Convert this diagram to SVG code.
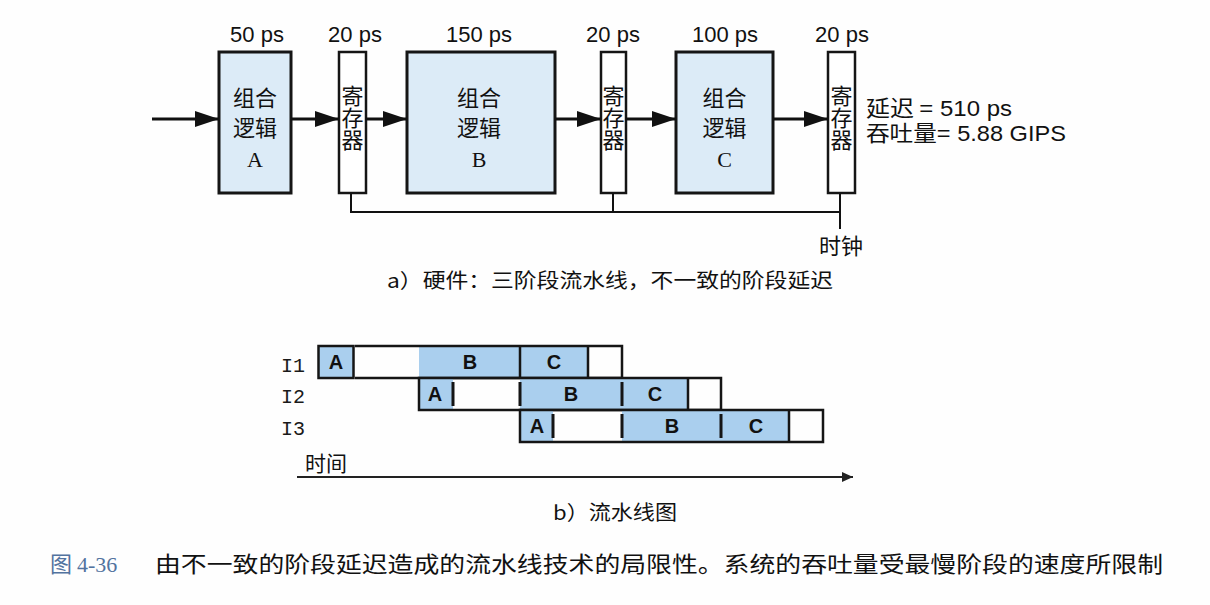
<svg xmlns="http://www.w3.org/2000/svg" width="1210" height="605" viewBox="0 0 1210 605">
<defs>
<marker id="ah" markerUnits="userSpaceOnUse" markerWidth="24" markerHeight="16" refX="24" refY="8" orient="auto">
<path d="M0,0 L24,8 L0,16 z" fill="#111"/>
</marker>
<marker id="ah2" markerUnits="userSpaceOnUse" markerWidth="11" markerHeight="10" refX="11" refY="5" orient="auto">
<path d="M0,0 L11,5 L0,10 z" fill="#222"/>
</marker>
<style>
.box{fill:#dcebf7;stroke:#151515;stroke-width:3}
.reg{fill:#ffffff;stroke:#151515;stroke-width:2.5}
.cjk{font-family:"Noto Sans CJK SC","Noto Sans",sans-serif;fill:#111}
.lbl{font-family:"Liberation Sans",Arial,sans-serif;font-size:22px;fill:#111;text-anchor:middle}
.bt{font-family:"Noto Sans CJK SC",sans-serif;font-size:22px;fill:#111;text-anchor:middle}
.bl{font-family:"Liberation Serif",serif;font-size:22px}
.rt{font-family:"Noto Sans CJK SC",sans-serif;font-size:22px;fill:#111;text-anchor:middle;writing-mode:vertical-rl}
.wire{stroke:#111;stroke-width:3;fill:none}
.clk{stroke:#111;stroke-width:2;fill:none}
.sh{fill:#aacfee}
.pl{stroke:#151515;stroke-width:2.5;fill:none}
.tk{stroke:#151515;stroke-width:3;fill:none}
.pt{font-family:"Liberation Sans",Arial,sans-serif;font-size:20px;font-weight:bold;fill:#111;text-anchor:middle}
.rl{font-family:"Liberation Mono","DejaVu Sans Mono",monospace;font-size:20px;fill:#1a1a1a}
.lat{font-family:"Liberation Sans",Arial,sans-serif}
</style>
</defs>
<rect width="1210" height="605" fill="#fefefe"/>

<g id="delays">
<text class="lbl" x="257" y="42">50 ps</text>
<text class="lbl" x="355" y="42">20 ps</text>
<text class="lbl" x="479" y="42">150 ps</text>
<text class="lbl" x="613" y="42">20 ps</text>
<text class="lbl" x="725" y="42">100 ps</text>
<text class="lbl" x="842" y="42">20 ps</text>
</g>

<g id="logicA">
<rect class="box" x="219" y="52" width="72" height="141"/>
<text class="bt" x="255" y="106">组合<tspan x="255" dy="30">逻辑</tspan><tspan class="bl" x="255" dy="31">A</tspan></text>
</g>
<g id="reg1">
<rect class="reg" x="339" y="52" width="27" height="141"/>
<text class="rt" x="352.5" y="118">寄存器</text>
</g>
<g id="logicB">
<rect class="box" x="407" y="52" width="148" height="141"/>
<text class="bt" x="479" y="106">组合<tspan x="479" dy="30">逻辑</tspan><tspan class="bl" x="479" dy="31">B</tspan></text>
</g>
<g id="reg2">
<rect class="reg" x="601" y="52" width="25" height="141"/>
<text class="rt" x="613.5" y="118">寄存器</text>
</g>
<g id="logicC">
<rect class="box" x="676" y="52" width="97" height="141"/>
<text class="bt" x="724.5" y="106">组合<tspan x="724.5" dy="30">逻辑</tspan><tspan class="bl" x="724.5" dy="31">C</tspan></text>
</g>
<g id="reg3">
<rect class="reg" x="828" y="52" width="27" height="141"/>
<text class="rt" x="841.5" y="118">寄存器</text>
</g>

<g id="connectors">
<line class="wire" x1="152" y1="119" x2="219" y2="119" marker-end="url(#ah)"/>
<line class="wire" x1="291" y1="119" x2="339" y2="119" marker-end="url(#ah)"/>
<line class="wire" x1="366" y1="119" x2="407" y2="119" marker-end="url(#ah)"/>
<line class="wire" x1="555" y1="119" x2="601" y2="119" marker-end="url(#ah)"/>
<line class="wire" x1="626" y1="119" x2="676" y2="119" marker-end="url(#ah)"/>
<line class="wire" x1="773" y1="119" x2="828" y2="119" marker-end="url(#ah)"/>
<path class="clk" d="M351,193 V212 H840 M613,193 V212 M840,193 V229"/>
</g>

<g id="clock-label">
<text class="cjk" x="841" y="254" font-size="22" text-anchor="middle">时钟</text>
</g>
<g id="metrics">
<text class="cjk" x="866" y="116" font-size="22" textLength="146" lengthAdjust="spacingAndGlyphs">延迟 <tspan class="lat">= 510 ps</tspan></text>
<text class="cjk" x="866" y="141" font-size="22" textLength="200" lengthAdjust="spacingAndGlyphs">吞吐量<tspan class="lat">= 5.88 GIPS</tspan></text>
</g>

<text class="cjk" x="387" y="288" font-size="20" textLength="446" lengthAdjust="spacingAndGlyphs">a）硬件：三阶段流水线，不一致的阶段延迟</text>

<g id="row-labels">
<text class="rl" x="281" y="372">I1</text>
<text class="rl" x="281" y="403">I2</text>
<text class="rl" x="281" y="435">I3</text>
</g>

<g id="I1">
<rect class="sh" x="318" y="346" width="36" height="32"/>
<rect class="sh" x="419" y="346" width="169" height="32"/>
<rect class="pl" x="318.5" y="346" width="35" height="32"/>
<path class="pl" d="M355,346 H622 V378 H355"/>
<path class="pl" d="M520,346 V378 M588,346 V378"/>
<text class="pt" x="336" y="369">A</text>
<text class="pt" x="470" y="369">B</text>
<text class="pt" x="554" y="369">C</text>
</g>

<g id="I2">
<rect class="sh" x="419" y="378" width="34" height="32"/>
<rect class="sh" x="520" y="378" width="168" height="32"/>
<path class="pl" d="M419,378 H721 V410 H419 Z M688,378 V410"/>
<path class="tk" d="M453,382 V406 M520,382 V406 M622,382 V406"/>
<text class="pt" x="435" y="401">A</text>
<text class="pt" x="571" y="401">B</text>
<text class="pt" x="655" y="401">C</text>
</g>

<g id="I3">
<rect class="sh" x="520" y="410" width="33" height="32"/>
<rect class="sh" x="622" y="410" width="167" height="32"/>
<path class="pl" d="M520,410 H823 V442 H520 Z M789,410 V442"/>
<path class="tk" d="M553,414 V438 M622,414 V438 M721,414 V438"/>
<text class="pt" x="537" y="433">A</text>
<text class="pt" x="672" y="433">B</text>
<text class="pt" x="756" y="433">C</text>
</g>

<g id="time-axis">
<text class="cjk" x="305" y="471" font-size="21">时间</text>
<line x1="297" y1="477" x2="853" y2="477" stroke="#222" stroke-width="2" marker-end="url(#ah2)"/>
</g>

<text class="cjk" x="553" y="520" font-size="20" textLength="124" lengthAdjust="spacingAndGlyphs">b）流水线图</text>

<g id="figure-caption">
<text x="50" y="572" font-size="22" fill="#52739f" font-family="Noto Sans CJK SC,sans-serif">图 <tspan font-family="Liberation Serif,serif">4-36</tspan></text>
<text class="cjk" x="155" y="572" font-size="22" textLength="1008" lengthAdjust="spacingAndGlyphs">由不一致的阶段延迟造成的流水线技术的局限性。系统的吞吐量受最慢阶段的速度所限制</text>
</g>
</svg>
